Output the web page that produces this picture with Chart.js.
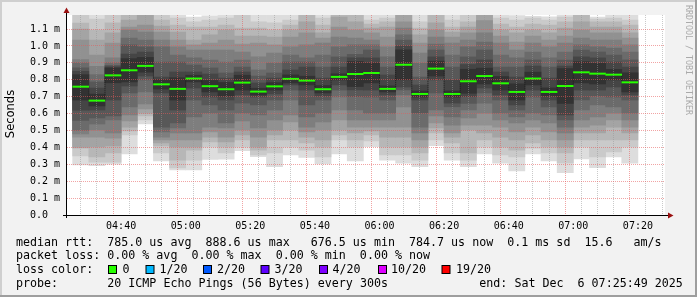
<!DOCTYPE html>
<html>
<head>
<meta charset="utf-8">
<script src="https://cdn.jsdelivr.net/npm/chart.js@4.4.0/dist/chart.umd.min.js"></script>
<style>
  html, body { margin: 0; padding: 0; background: #f2f2f2; }
  canvas { display: block; }
</style>
</head>
<body>
<canvas id="grafico" width="697" height="297"></canvas>
<script>
// fim de cada intervalo de 5 minutos
const barEnd = ['04:30','04:35','04:40','04:45','04:50','04:55','05:00','05:05','05:10','05:15',
  '05:20','05:25','05:30','05:35','05:40','05:45','05:50','05:55','06:00','06:05',
  '06:10','06:15','06:20','06:25','06:30','06:35','06:40','06:45','06:50','06:55',
  '07:00','07:05','07:10','07:15','07:20'];

// mediana (ms)
const median = [0.759,0.6765,0.826,0.856,0.882,0.773,0.746,0.807,0.762,0.744,
  0.783,0.730,0.761,0.805,0.795,0.744,0.817,0.834,0.840,0.746,
  0.8886,0.716,0.866,0.716,0.791,0.822,0.779,0.728,0.807,0.728,
  0.763,0.844,0.836,0.830,0.7847];

// 20 pings ordenados por intervalo (ms)
const pings = [
  [0.296,0.35,0.395,0.40,0.46,0.48,0.50,0.56,0.62,0.68,0.83,0.85,0.87,0.90,0.92,1.035,1.10,1.135,1.20,1.25],
  [0.292,0.313,0.343,0.402,0.461,0.503,0.538,0.574,0.621,0.645,0.715,0.751,0.787,0.83,0.88,0.946,1.035,1.094,1.159,1.22],
  [0.300,0.313,0.367,0.408,0.455,0.485,0.562,0.586,0.68,0.782,0.87,0.877,0.885,0.90,0.929,1.017,1.077,1.136,1.20,1.24],
  [0.361,0.473,0.497,0.52,0.556,0.592,0.639,0.722,0.763,0.787,0.925,0.952,1.006,1.047,1.094,1.112,1.153,1.19,1.22,1.26],
  [0.538,0.562,0.586,0.603,0.627,0.657,0.728,0.799,0.822,0.845,0.932,0.964,0.994,1.035,1.082,1.124,1.19,1.23,1.27,1.31],
  [0.32,0.367,0.408,0.426,0.444,0.461,0.491,0.52,0.722,0.745,0.801,0.816,0.905,0.994,1.035,1.082,1.118,1.153,1.20,1.24],
  [0.266,0.278,0.325,0.402,0.444,0.485,0.515,0.544,0.621,0.68,0.812,0.846,0.905,0.946,0.994,1.035,1.082,1.124,1.165,1.20],
  [0.266,0.325,0.384,0.402,0.444,0.485,0.58,0.68,0.751,0.787,0.827,0.846,0.887,0.929,0.976,1.006,1.035,1.112,1.142,1.17],
  [0.329,0.402,0.432,0.461,0.491,0.52,0.603,0.651,0.698,0.728,0.796,0.834,0.87,0.917,0.976,1.017,1.065,1.112,1.153,1.178],
  [0.33,0.367,0.402,0.432,0.461,0.515,0.544,0.621,0.68,0.704,0.784,0.81,0.84,0.905,0.976,1.035,1.094,1.124,1.165,1.21],
  [0.38,0.402,0.444,0.473,0.503,0.556,0.603,0.662,0.71,0.739,0.827,0.846,0.875,0.917,0.964,1.011,1.059,1.106,1.19,1.25],
  [0.345,0.355,0.384,0.402,0.461,0.515,0.592,0.651,0.698,0.71,0.75,0.781,0.822,0.858,0.935,1.017,1.059,1.106,1.142,1.25],
  [0.286,0.367,0.444,0.473,0.503,0.562,0.621,0.68,0.716,0.739,0.783,0.81,0.84,0.899,0.958,1.006,1.053,1.094,1.136,1.22],
  [0.355,0.402,0.444,0.503,0.55,0.592,0.68,0.739,0.769,0.781,0.829,0.858,0.905,0.946,0.994,1.053,1.094,1.124,1.153,1.24],
  [0.341,0.384,0.426,0.461,0.491,0.52,0.58,0.651,0.739,0.769,0.821,0.875,0.905,0.929,1.006,1.077,1.142,1.20,1.25,1.30],
  [0.302,0.343,0.402,0.444,0.503,0.55,0.603,0.68,0.704,0.722,0.766,0.81,0.875,0.946,1.017,1.047,1.077,1.124,1.165,1.24],
  [0.361,0.444,0.473,0.503,0.562,0.621,0.698,0.739,0.769,0.799,0.835,0.875,0.935,0.994,1.053,1.112,1.17,1.21,1.25,1.29],
  [0.32,0.402,0.444,0.485,0.52,0.562,0.621,0.70,0.74,0.76,0.908,0.93,0.95,1.006,1.047,1.094,1.142,1.19,1.23,1.27],
  [0.404,0.438,0.473,0.497,0.52,0.562,0.603,0.698,0.739,0.781,0.899,0.929,0.976,1.006,1.035,1.077,1.106,1.13,1.153,1.20],
  [0.325,0.355,0.402,0.461,0.52,0.562,0.603,0.68,0.71,0.728,0.764,0.828,0.875,0.935,0.994,1.053,1.112,1.142,1.165,1.21],
  [0.306,0.355,0.402,0.461,0.52,0.639,0.71,0.74,0.757,0.80,0.977,1.00,1.035,1.065,1.106,1.142,1.19,1.23,1.26,1.30],
  [0.286,0.325,0.367,0.402,0.444,0.485,0.52,0.603,0.68,0.698,0.734,0.769,0.816,0.899,0.958,1.017,1.065,1.106,1.142,1.22],
  [0.41,0.444,0.485,0.515,0.544,0.586,0.621,0.722,0.799,0.822,0.91,0.935,0.976,1.011,1.053,1.094,1.136,1.19,1.22,1.26],
  [0.325,0.367,0.426,0.461,0.485,0.532,0.58,0.64,0.662,0.698,0.734,0.799,0.875,0.946,1.017,1.053,1.082,1.112,1.153,1.22],
  [0.286,0.325,0.367,0.503,0.532,0.574,0.621,0.66,0.70,0.72,0.862,0.89,0.935,0.994,1.035,1.077,1.112,1.142,1.19,1.23],
  [0.361,0.402,0.444,0.485,0.532,0.603,0.662,0.722,0.751,0.775,0.869,0.917,0.976,1.023,1.077,1.15,1.20,1.24,1.28,1.32],
  [0.306,0.355,0.402,0.461,0.52,0.562,0.603,0.68,0.71,0.739,0.819,0.846,0.875,0.946,1.017,1.059,1.094,1.13,1.165,1.22],
  [0.26,0.343,0.384,0.444,0.491,0.544,0.58,0.621,0.651,0.68,0.776,0.816,0.875,0.929,0.976,1.023,1.077,1.112,1.153,1.18],
  [0.361,0.396,0.426,0.473,0.52,0.562,0.603,0.698,0.739,0.769,0.845,0.881,0.917,0.964,1.017,1.059,1.094,1.13,1.165,1.175],
  [0.32,0.367,0.402,0.444,0.491,0.544,0.592,0.639,0.68,0.704,0.752,0.81,0.875,0.929,0.994,1.035,1.077,1.124,1.153,1.172],
  [0.25,0.308,0.367,0.402,0.444,0.485,0.52,0.562,0.592,0.66,0.866,0.881,0.917,0.964,1.017,1.059,1.106,1.142,1.171,1.21],
  [0.331,0.402,0.444,0.485,0.52,0.562,0.621,0.68,0.739,0.781,0.907,0.935,0.976,1.006,1.047,1.094,1.142,1.19,1.24,1.29],
  [0.28,0.343,0.444,0.485,0.532,0.58,0.651,0.704,0.739,0.775,0.897,0.929,0.964,0.994,1.035,1.077,1.112,1.142,1.159,1.17],
  [0.343,0.373,0.444,0.52,0.562,0.603,0.639,0.698,0.757,0.799,0.861,0.905,0.946,0.988,1.035,1.077,1.112,1.142,1.165,1.19],
  [0.306,0.402,0.444,0.485,0.52,0.562,0.603,0.68,0.71,0.728,0.841,0.875,0.917,0.964,1.006,1.047,1.077,1.124,1.153,1.21]
];

const tStart = '04:25:49';
const tEnd = '07:25:49';

const statLines = [
  'median rtt:  785.0 us avg  888.6 us max   676.5 us min  784.7 us now  0.1 ms sd  15.6   am/s',
  'packet loss: 0.00 % avg  0.00 % max  0.00 % min  0.00 % now'
];
const lossLabels = ['0', '1/20', '2/20', '3/20', '4/20', '10/20', '19/20'];
const lossColors = ['#26ff00', '#00b8ff', '#0059ff', '#5e00ff', '#7e00ff', '#dd00ff', '#ff0000'];
const probeText = '20 ICMP Echo Pings (56 Bytes) every 300s';
const endText = 'end: Sat Dec  6 07:25:49 2025';

function toMin(s) {
    const p = s.split(':').map(Number);
    return p[0] * 60 + p[1] + (p[2] || 0) / 60;
}
function fmtTime(m) {
    const h = Math.floor(m / 60), mm = m % 60;
    return String(h).padStart(2, '0') + ':' + String(mm).padStart(2, '0');
}

const centers = barEnd.map(t => toMin(t) - 2.5);

// faixas de fumaça: da mais externa (clara) para a mais interna (escura)
const datasets = [];
for (let k = 1; k <= 10; k++) {
    const c = Math.floor(190 / 10 * (10 - k)) + 50;
    const hex = c.toString(16).padStart(2, '0');
    datasets.push({
        type: 'bar',
        data: centers.map((x, i) => ({ x: x, y: [pings[i][k - 1], pings[i][20 - k]] })),
        backgroundColor: '#' + hex + hex + hex,
        borderWidth: 0,
        grouped: false,
        barPercentage: 1,
        categoryPercentage: 1,
        order: 30 - k
    });
}
// ligações verticais da mediana
datasets.push({
    type: 'line',
    data: centers.map((x, i) => ({ x: x, y: median[i] })),
    stepped: 'middle',
    borderColor: '#1e1e1e',
    borderWidth: 1,
    borderDash: [1, 1],
    pointRadius: 0,
    order: 2
});
// mediana (cor de perda 0)
datasets.push({
    type: 'line',
    data: centers.map((x, i) => ({ x: x, y: median[i] })),
    showLine: false,
    pointStyle: 'line',
    pointRadius: 8.3,
    pointBorderWidth: 2,
    pointBorderColor: lossColors[0],
    pointBackgroundColor: lossColors[0],
    order: 1
});

const mono = '"DejaVu Sans Mono", monospace';

const rrdPlugin = {
    id: 'rrd',
    beforeDraw(chart) {
        const c = chart.ctx, a = chart.chartArea;
        c.save();
        c.fillStyle = '#f2f2f2';
        c.fillRect(0, 0, chart.width, chart.height);
        c.fillStyle = '#cfcfcf';
        c.fillRect(0, 0, chart.width, 2);
        c.fillRect(0, 0, 2, chart.height);
        c.fillStyle = '#9e9e9e';
        c.fillRect(0, chart.height - 2, chart.width, 2);
        c.fillRect(chart.width - 2, 0, 2, chart.height);
        c.fillStyle = '#ffffff';
        c.fillRect(a.left, a.top, a.right - a.left, a.bottom - a.top);
        c.restore();
    },
    afterDraw(chart) {
        const c = chart.ctx, a = chart.chartArea;
        c.save();
        // eixos
        c.strokeStyle = '#000';
        c.lineWidth = 1;
        c.beginPath();
        c.moveTo(a.left - 0.5, a.bottom + 3);
        c.lineTo(a.left - 0.5, 11);
        c.moveTo(a.left - 4, a.bottom + 0.5);
        c.lineTo(669, a.bottom + 0.5);
        c.stroke();
        c.fillStyle = '#9a1010';
        c.beginPath();
        c.moveTo(a.left - 3.5, 13); c.lineTo(a.left + 2.5, 13); c.lineTo(a.left - 0.5, 7.5);
        c.closePath(); c.fill();
        c.beginPath();
        c.moveTo(668, a.bottom - 2.5); c.lineTo(668, a.bottom + 3.5); c.lineTo(673.5, a.bottom + 0.5);
        c.closePath(); c.fill();

        // título vertical
        c.fillStyle = '#000';
        c.font = '11.5px "DejaVu Sans", sans-serif';
        c.textAlign = 'center';
        c.textBaseline = 'middle';
        c.translate(11, 114);
        c.rotate(-Math.PI / 2);
        c.fillText('Seconds', 0, 0);
        c.setTransform(1, 0, 0, 1, 0, 0);

        c.fillStyle = '#aaaaaa';
        c.font = '8.3px ' + mono;
        c.translate(688, 60);
        c.rotate(Math.PI / 2);
        c.fillText('RRDTOOL / TOBI OETIKER', 0, 0);
        c.setTransform(1, 0, 0, 1, 0, 0);

        // legenda
        c.fillStyle = '#000';
        c.font = '11.66px ' + mono;
        c.textAlign = 'left';
        c.textBaseline = 'alphabetic';
        c.fillText(statLines[0], 16, 245.5);
        c.fillText(statLines[1], 16, 259);
        c.fillText('loss color:', 16, 273);
        const boxX = [108.5, 146, 203.5, 261, 319.5, 378.5, 442];
        const labX = [122.5, 159.5, 217, 274.5, 332.5, 391, 456];
        lossLabels.forEach((lab, i) => {
            c.fillStyle = lossColors[i];
            c.fillRect(boxX[i], 265.5, 8, 8);
            c.strokeStyle = '#000';
            c.strokeRect(boxX[i], 265.5, 8, 8);
            c.fillStyle = '#000';
            c.fillText(lab, labX[i], 273);
        });
        c.fillText('probe:', 16, 286.5);
        c.fillText(probeText, 16 + 13 * 7.02, 286.5);
        c.fillText(endText, 16 + 66 * 7.02, 286.5);
        c.restore();
    }
};

const config = {
    type: 'bar',
    data: { datasets: datasets },
    options: {
        responsive: false,
        animation: false,
        devicePixelRatio: 1,
        layout: { padding: { left: 0, right: 32, top: 15, bottom: 0 } },
        plugins: { legend: { display: false }, tooltip: { enabled: false } },
        scales: {
            x: {
                type: 'linear',
                min: toMin(tStart),
                max: toMin(tEnd),
                afterBuildTicks: s => {
                    const t = [];
                    for (let v = 270; v <= 445; v += 5) t.push({ value: v });
                    s.ticks = t;
                },
                afterFit: s => { s.height = 82; },
                ticks: {
                    autoSkip: false,
                    maxRotation: 0,
                    padding: 5,
                    color: '#000',
                    font: { family: mono, size: 10 },
                    callback: v => (v % 20 === 0 ? fmtTime(v) : '')
                },
                grid: {
                    z: 1,
                    drawTicks: false,
                    lineWidth: 1,
                    color: c => (c.tick && c.tick.value % 20 === 0 ? 'rgba(230,90,90,0.55)' : 'rgba(150,150,150,0.5)')
                },
                border: { display: false, dash: [1, 1] }
            },
            y: {
                min: 0,
                max: 1.183,
                afterBuildTicks: s => {
                    const t = [];
                    for (let i = 0; i <= 11; i++) t.push({ value: i / 10 });
                    s.ticks = t;
                },
                afterFit: s => { s.width = 67; },
                ticks: {
                    padding: 7,
                    color: '#000',
                    font: { family: mono, size: 10 },
                    callback: v => (v === 0 ? '0.0  ' : v.toFixed(1) + ' m')
                },
                grid: {
                    z: 1,
                    drawTicks: false,
                    lineWidth: 1,
                    color: 'rgba(230,90,90,0.55)'
                },
                border: { display: false, dash: [1, 1] }
            }
        }
    },
    plugins: [rrdPlugin]
};

const ctx = document.getElementById('grafico').getContext('2d');
const grafico = new Chart(ctx, config);
</script>
</body>
</html>
